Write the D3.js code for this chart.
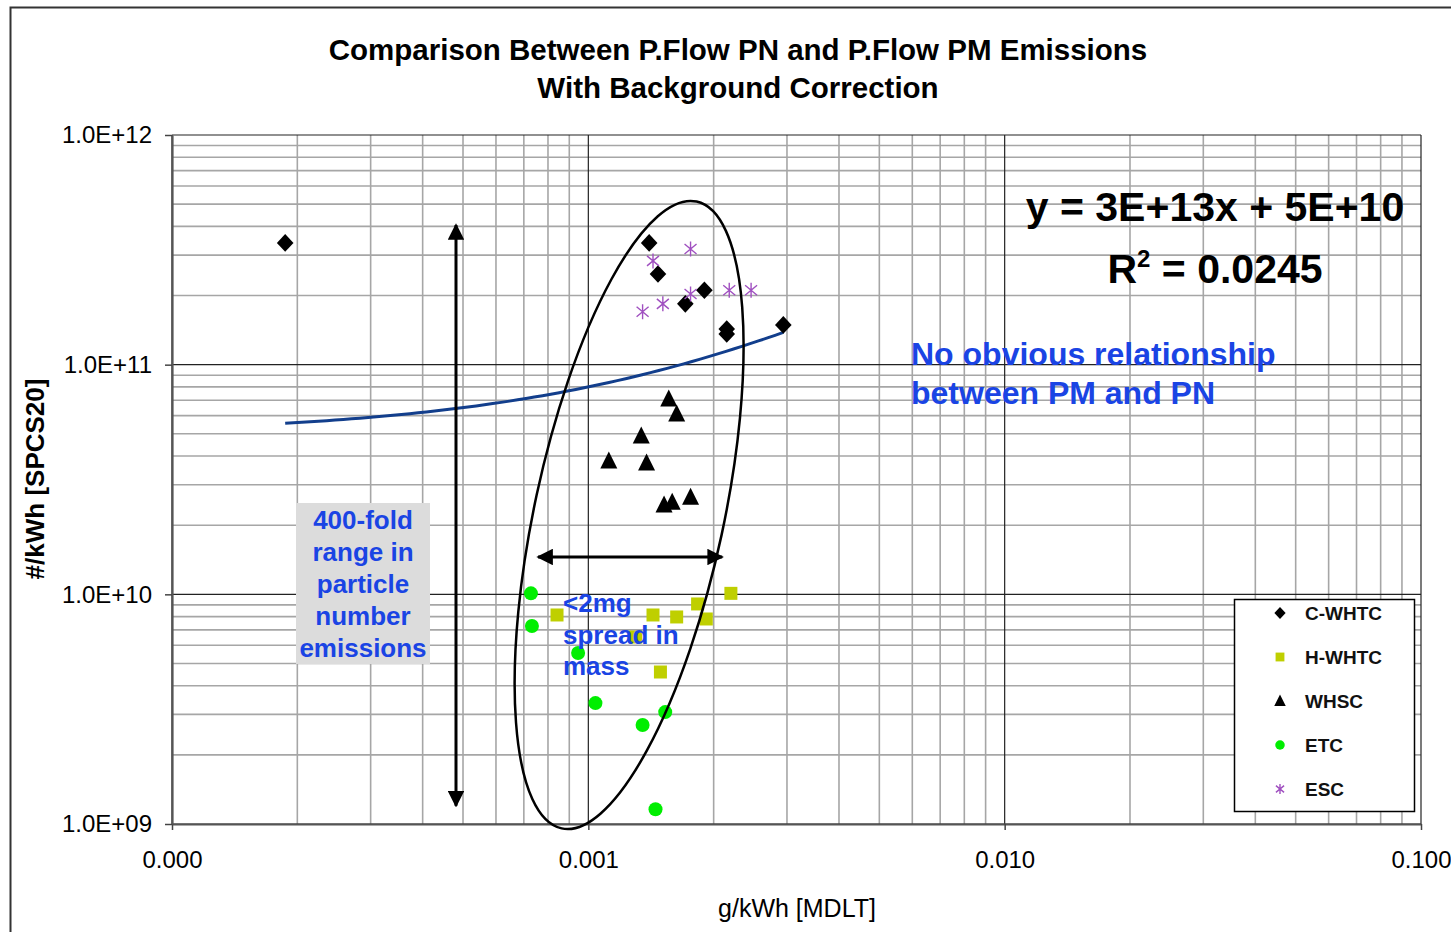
<!DOCTYPE html>
<html>
<head>
<meta charset="utf-8">
<script src="https://cdn.jsdelivr.net/npm/d3@7"></script>
<style>
    body { margin: 0; background: #fff; }
    text { font-family: "Liberation Sans", Arial, sans-serif; }
</style>
</head>
<body>
<div id="chart"></div>
<script>
// [PM g/kWh, PN #/kWh] per test cycle
var cWHTC = [[1.87e-4, 3.39e11], [1.40e-3, 3.39e11], [1.47e-3, 2.48e11], [1.90e-3, 2.11e11],
             [1.71e-3, 1.84e11], [2.15e-3, 1.43e11], [2.15e-3, 1.36e11], [2.94e-3, 1.49e11]];
var hWHTC = [[8.41e-4, 8.13e9], [1.43e-3, 8.13e9], [1.63e-3, 7.97e9], [1.83e-3, 9.08e9],
             [1.92e-3, 7.81e9], [2.20e-3, 1.01e10], [1.49e-3, 4.59e9], [1.30e-3, 6.52e9]];
var whsc = [[1.56e-3, 7.09e10], [1.63e-3, 6.10e10], [1.34e-3, 4.89e10], [1.12e-3, 3.81e10],
            [1.38e-3, 3.73e10], [1.52e-3, 2.45e10], [1.59e-3, 2.52e10], [1.76e-3, 2.65e10]];
var etc = [[7.28e-4, 1.01e10], [7.32e-4, 7.28e9], [9.45e-4, 5.55e9], [1.04e-3, 3.36e9],
           [1.35e-3, 2.70e9], [1.53e-3, 3.07e9], [1.45e-3, 1.16e9]];
var esc = [[1.76e-3, 3.19e11], [1.43e-3, 2.83e11], [1.51e-3, 1.84e11], [1.35e-3, 1.70e11],
           [1.76e-3, 2.03e11], [2.18e-3, 2.11e11], [2.46e-3, 2.11e11]];

var seriesNames = ["C-WHTC", "H-WHTC", "WHSC", "ETC", "ESC"];

var xTicks = [1e-4, 1e-3, 1e-2, 1e-1];
var xTickLabels = ["0.000", "0.001", "0.010", "0.100"];
var yTicks = [1e9, 1e10, 1e11, 1e12];
var yTickLabels = ["1.0E+09", "1.0E+10", "1.0E+11", "1.0E+12"];

// excel linear trendline: y = 3E+13x + 5E+10
var trendSlope = 3e13, trendIntercept = 5e10;
var trendRange = [1.87e-4, 2.94e-3];

// annotations in data units
var pnArrow = {pm: 4.81e-4, pn: [4.06e11, 1.20e9]};
var pmArrow = {pn: 1.454e10, pm: [7.57e-4, 2.097e-3]};
var ellipseCenter = [1.253e-3, 2.216e10];

var W = 1451, H = 932;
var svg = d3.select("#chart")
    .append("svg")
    .attr("width", W)
    .attr("height", H)
    .style("display", "block");

var x = d3.scaleLog()
    .domain([1e-4, 1e-1])
    .range([172, 1421]);
var y = d3.scaleLog()
    .domain([1e9, 1e12])
    .range([824, 135]);

// outer chart border
svg.append("path")
    .attr("d", "M10.5," + H + "V7.5H" + W)
    .attr("fill", "none")
    .attr("stroke", "#333")
    .attr("stroke-width", 2);

// title
svg.append("text")
    .attr("x", 738)
    .attr("y", 60)
    .attr("text-anchor", "middle")
    .style("font-size", "29.5px")
    .style("font-weight", "bold")
    .text("Comparison Between P.Flow PN and P.Flow PM Emissions");
svg.append("text")
    .attr("x", 738)
    .attr("y", 98)
    .attr("text-anchor", "middle")
    .style("font-size", "29.5px")
    .style("font-weight", "bold")
    .text("With Background Correction");

// grid
var minorX = x.ticks().filter(function(d) { return xTicks.indexOf(d) < 0; });
var minorY = y.ticks().filter(function(d) { return yTicks.indexOf(d) < 0; });
var grid = svg.append("g");
grid.selectAll(".mx").data(minorX).enter().append("line")
    .attr("x1", function(d) { return x(d); }).attr("x2", function(d) { return x(d); })
    .attr("y1", 135).attr("y2", 824)
    .attr("stroke", "#a6a6a6").attr("stroke-width", 1.6);
grid.selectAll(".my").data(minorY).enter().append("line")
    .attr("y1", function(d) { return y(d); }).attr("y2", function(d) { return y(d); })
    .attr("x1", 172).attr("x2", 1421)
    .attr("stroke", "#a6a6a6").attr("stroke-width", 1.6);
grid.selectAll(".Mx").data(xTicks).enter().append("line")
    .attr("x1", function(d) { return x(d); }).attr("x2", function(d) { return x(d); })
    .attr("y1", 135).attr("y2", 824)
    .attr("stroke", "#222").attr("stroke-width", 1.2);
grid.selectAll(".My").data(yTicks).enter().append("line")
    .attr("y1", function(d) { return y(d); }).attr("y2", function(d) { return y(d); })
    .attr("x1", 172).attr("x2", 1421)
    .attr("stroke", "#222").attr("stroke-width", 1.2);

// axes
var xAxis = svg.append("g")
    .attr("transform", "translate(0,824)")
    .call(d3.axisBottom(x).tickValues(xTicks)
        .tickFormat(function(d, i) { return xTickLabels[i]; })
        .tickSize(6).tickSizeOuter(0).tickPadding(21));
var yAxis = svg.append("g")
    .attr("transform", "translate(172,0)")
    .call(d3.axisLeft(y).tickValues(yTicks)
        .tickFormat(function(d, i) { return yTickLabels[i]; })
        .tickSize(7).tickSizeOuter(0).tickPadding(13));
[xAxis, yAxis].forEach(function(a) {
    a.select(".domain").attr("stroke", "#555").attr("stroke-width", 2.2);
    a.selectAll(".tick line").attr("stroke", "#444").attr("stroke-width", 1.5);
    a.selectAll(".tick text")
        .attr("fill", "#000")
        .style("font-family", "'Liberation Sans', Arial, sans-serif")
        .style("font-size", "24px");
});

svg.append("text")
    .attr("transform", "translate(44,479) rotate(-90)")
    .attr("text-anchor", "middle")
    .style("font-size", "26px")
    .style("font-weight", "bold")
    .text("#/kWh [SPCS20]");
svg.append("text")
    .attr("x", 797)
    .attr("y", 917)
    .attr("text-anchor", "middle")
    .style("font-size", "25px")
    .text("g/kWh [MDLT]");

// trendline
var trendPts = d3.range(0, 61).map(function(i) {
    var lx = Math.log10(trendRange[0]) + i / 60 * (Math.log10(trendRange[1]) - Math.log10(trendRange[0]));
    var pm = Math.pow(10, lx);
    return [pm, trendSlope * pm + trendIntercept];
});
svg.append("path")
    .datum(trendPts)
    .attr("fill", "none")
    .attr("stroke", "#123e8c")
    .attr("stroke-width", 3)
    .attr("d", d3.line()
        .x(function(d) { return x(d[0]); })
        .y(function(d) { return y(d[1]); }));

// marker shapes
var shapes = {
    "C-WHTC": function(s) { return "M0," + (-8.8 * s) + "L" + (8.3 * s) + ",0L0," + (8.8 * s) + "L" + (-8.3 * s) + ",0Z"; },
    "H-WHTC": function(s) { return "M" + (-6.5 * s) + "," + (-6.5 * s) + "h" + (13 * s) + "v" + (13 * s) + "h" + (-13 * s) + "Z"; },
    "WHSC": function(s) { return "M0," + (-9.5 * s) + "L" + (8.5 * s) + "," + (7.5 * s) + "L" + (-8.5 * s) + "," + (7.5 * s) + "Z"; },
    "ETC": function(s) { return d3.symbol(d3.symbolCircle, Math.PI * 49 * s * s)(); },
    "ESC": function(s) {
        return "M0," + (-7.5 * s) + "V" + (7.5 * s) +
            "M" + (-6 * s) + "," + (-5 * s) + "L" + (6 * s) + "," + (5 * s) +
            "M" + (-6 * s) + "," + (5 * s) + "L" + (6 * s) + "," + (-5 * s);
    }
};
var fills = {"C-WHTC": "#000", "H-WHTC": "#bfcf00", "WHSC": "#000", "ETC": "#00ee00", "ESC": "none"};
var series = [cWHTC, hWHTC, whsc, etc, esc];

function styleMarker(sel, name) {
    if (name === "ESC") {
        sel.attr("fill", "none").attr("stroke", "#a050c0").attr("stroke-width", 1.4);
    } else {
        sel.attr("fill", fills[name]);
    }
}

series.forEach(function(data, i) {
    var name = seriesNames[i];
    var g = svg.append("g");
    var marks = g.selectAll("path")
        .data(data)
        .enter()
        .append("path")
        .attr("transform", function(d) { return "translate(" + x(d[0]) + "," + y(d[1]) + ")"; })
        .attr("d", shapes[name](1));
    styleMarker(marks, name);
});

// ellipse around the cluster
svg.append("ellipse")
    .attr("transform", "translate(" + x(ellipseCenter[0]) + "," + y(ellipseCenter[1]) + ") rotate(12.15)")
    .attr("rx", 94.6)
    .attr("ry", 320.6)
    .attr("fill", "none")
    .attr("stroke", "#000")
    .attr("stroke-width", 2.5);

// double arrows
var defs = svg.append("defs");
defs.append("marker")
    .attr("id", "head")
    .attr("viewBox", "0 0 10 10")
    .attr("refX", 9).attr("refY", 5)
    .attr("markerWidth", 5.5).attr("markerHeight", 5.5)
    .attr("markerUnits", "strokeWidth")
    .attr("orient", "auto-start-reverse")
    .append("path")
    .attr("d", "M0,0L10,5L0,10Z")
    .attr("fill", "#000");

svg.append("line")
    .attr("x1", x(pnArrow.pm)).attr("x2", x(pnArrow.pm))
    .attr("y1", y(pnArrow.pn[0])).attr("y2", y(pnArrow.pn[1]))
    .attr("stroke", "#000").attr("stroke-width", 3)
    .attr("marker-start", "url(#head)")
    .attr("marker-end", "url(#head)");
svg.append("line")
    .attr("x1", x(pmArrow.pm[0])).attr("x2", x(pmArrow.pm[1]))
    .attr("y1", y(pmArrow.pn)).attr("y2", y(pmArrow.pn))
    .attr("stroke", "#000").attr("stroke-width", 3)
    .attr("marker-start", "url(#head)")
    .attr("marker-end", "url(#head)");

// text notes
var blue = "#1a44e4";
svg.append("rect")
    .attr("x", 296).attr("y", 503)
    .attr("width", 134).attr("height", 161)
    .attr("fill", "#dcdcdc");
var note1 = svg.append("text")
    .attr("text-anchor", "middle")
    .style("font-size", "26px")
    .style("font-weight", "bold")
    .attr("fill", blue);
["400-fold", "range in", "particle", "number", "emissions"].forEach(function(t, i) {
    note1.append("tspan").attr("x", 363).attr("y", 529 + i * 32).text(t);
});

var note2 = svg.append("text")
    .style("font-size", "26px")
    .style("font-weight", "bold")
    .attr("fill", blue);
["<2mg", "spread in", "mass"].forEach(function(t, i) {
    note2.append("tspan").attr("x", 563).attr("y", 612 + i * 31.5).text(t);
});

var note3 = svg.append("text")
    .style("font-size", "32px")
    .style("font-weight", "bold")
    .attr("fill", blue);
["No obvious relationship", "between PM and PN"].forEach(function(t, i) {
    note3.append("tspan").attr("x", 911).attr("y", 365 + i * 39).text(t);
});

// trendline equation
svg.append("text")
    .attr("x", 1215)
    .attr("y", 221)
    .attr("text-anchor", "middle")
    .style("font-size", "41px")
    .style("font-weight", "bold")
    .text("y = 3E+13x + 5E+10");
var r2 = svg.append("text")
    .attr("x", 1215)
    .attr("y", 283)
    .attr("text-anchor", "middle")
    .style("font-size", "41px")
    .style("font-weight", "bold");
r2.append("tspan").text("R");
r2.append("tspan").attr("dy", -16).style("font-size", "24px").text("2");
r2.append("tspan").attr("dy", 16).text(" = 0.0245");

// legend
var legend = svg.append("g").attr("transform", "translate(1234,599)");
legend.append("rect")
    .attr("x", 0.5).attr("y", 0.5)
    .attr("width", 180).attr("height", 212)
    .attr("fill", "#fff")
    .attr("stroke", "#000")
    .attr("stroke-width", 1.5);
seriesNames.forEach(function(name, i) {
    var row = legend.append("g").attr("transform", "translate(0," + (14 + i * 44) + ")");
    var m = row.append("path")
        .attr("transform", "translate(46,0)")
        .attr("d", shapes[name](0.68));
    styleMarker(m, name);
    row.append("text")
        .attr("x", 71)
        .attr("y", 7)
        .style("font-size", "19px")
        .style("font-weight", "bold")
        .attr("fill", "#111")
        .text(name);
});
</script>
</body>
</html>
